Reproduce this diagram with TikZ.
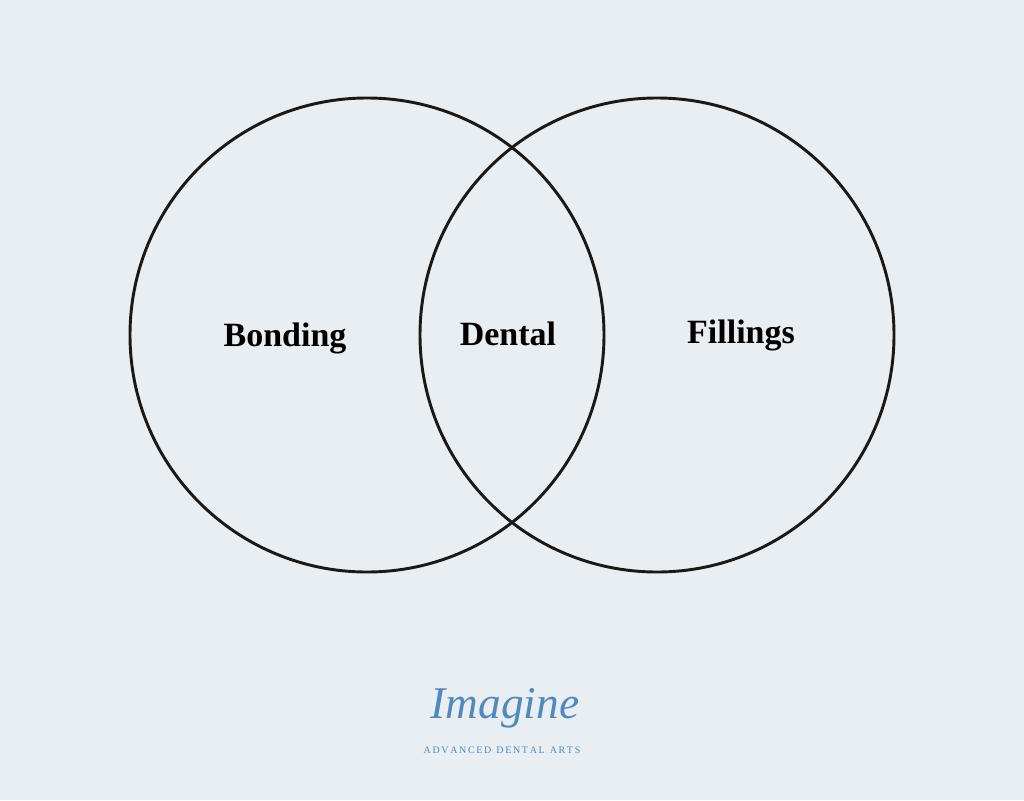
\documentclass[tikz,border=0pt]{standalone}
\usepackage{fontspec}
\setmainfont{Liberation Serif}
\definecolor{bgpage}{RGB}{233,238,242}
\definecolor{logoblue}{RGB}{78,138,190}
\tikzset{
  setcircle/.style={draw=black!90, line width=2.2pt, circle, minimum size=474*0.75pt, inner sep=0pt},
  setlabel/.style={font=\bfseries\fontsize{25.5}{30}\selectfont}
}
\begin{document}
\begin{tikzpicture}[x=0.75pt, y=-0.75pt]
  \fill[bgpage] (0,0) rectangle (1024,800);
  \useasboundingbox (0,0) rectangle (1024,800);
  \node[setcircle] (LC) at (367,335) {};
  \node[setcircle] (RC) at (657,335) {};
  \node[setlabel] (bonding) at (285,338) {Bonding};
  \node[setlabel] (dental) at (508,334) {Dental};
  \node[setlabel] (fillings) at (741,335) {Fillings};
  \node[text=logoblue, font=\itshape\fontsize{34}{36}\selectfont] (imagine) at (505,708) {Imagine};
  \node[text=logoblue, font=\fontsize{7.5}{9}\selectfont] (arts) at (502,750) {A\,D\,V\,A\,N\,C\,E\,D\ \ D\,E\,N\,T\,A\,L\ \ A\,R\,T\,S};
\end{tikzpicture}
\end{document}
